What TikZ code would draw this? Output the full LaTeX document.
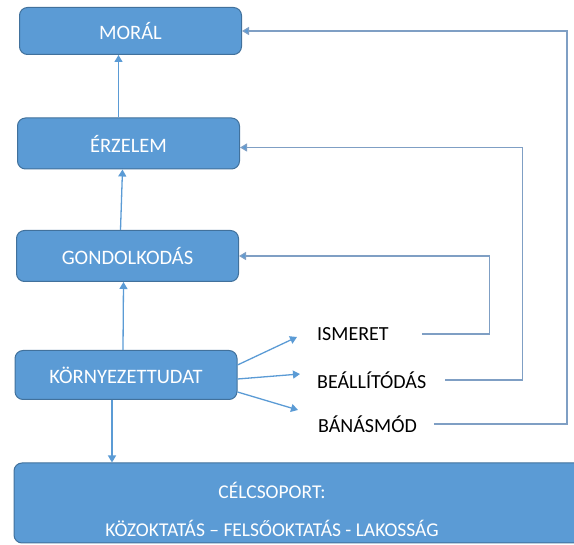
\documentclass[tikz,border=0pt]{standalone}
\usepackage{fontspec}
\setmainfont{Carlito}
\usetikzlibrary{arrows.meta}

\definecolor{boxblue}{HTML}{5B9BD5}
\definecolor{boxedge}{HTML}{41719C}
\definecolor{backline}{HTML}{7F9FC4}

\tikzset{
    lvlbox/.style={draw=boxedge, line width=1pt, fill=boxblue, rounded corners=8pt,
        minimum width=222pt, minimum height=49pt, text=white, font=\fontsize{20.5}{24}\selectfont},
    lbl/.style={anchor=west, inner sep=0pt, font=\fontsize{20}{24}\selectfont},
    up/.style={draw=boxblue, line width=1.3pt, -{Triangle[width=8pt,length=7pt]}},
    back/.style={draw=backline, line width=1.1pt, -{Triangle[width=8pt,length=7pt,fill=boxblue]}}
}

\begin{document}
\begin{tikzpicture}[x=1pt, y=-1pt]
    \clip (0,0) rectangle (574,545);
    \useasboundingbox (0,0) rectangle (574,545);
    % Levels on the left
    \node[lvlbox, minimum height=47pt] (moral) at (130.5,31) {MORÁL};
    \node[lvlbox, minimum height=51pt] (erzelem) at (128.5,143.5) {ÉRZELEM};
    \node[lvlbox, minimum height=51pt] (gond) at (127.5,256) {GONDOLKODÁS};
    \node[lvlbox, minimum height=49pt] (ktudat) at (126,375) {KÖRNYEZETTUDAT};
    % Target group at the bottom
    \node[lvlbox, minimum width=580pt, minimum height=80pt] (cel) at (304,503) {};
    \node[text=white, font=\fontsize{19.5}{38}\selectfont, align=center] (celtxt) at (272,509)
        {CÉLCSOPORT:\\KÖZOKTATÁS – FELSŐOKTATÁS - LAKOSSÁG};
    % Labels on the right
    \node[lbl] (ism) at (317,334) {ISMERET};
    \node[lbl] (beall) at (317,380) {BEÁLLÍTÓDÁS};
    \node[lbl] (banas) at (318,424) {BÁNÁSMÓD};
    % Upward chain
    \draw[up] ([xshift=-10pt]erzelem.north) -- ([xshift=-12pt]moral.south);
    \draw[up] ([xshift=-7pt]gond.north) -- ([xshift=-6pt]erzelem.south);
    \draw[up] ([xshift=-3pt]ktudat.north) -- ([xshift=-4pt]gond.south);
    \draw[up] ([xshift=-14pt]ktudat.south) -- ([xshift=-192pt]cel.north);
    % Fan to the labels
    \draw[up] ([yshift=10pt]ktudat.east) -- ([xshift=-20pt,yshift=-3pt]ism.west);
    \draw[up] ([yshift=-4pt]ktudat.east) -- ([xshift=-17pt,yshift=6pt]beall.west);
    \draw[up] ([yshift=-17pt]ktudat.east) -- ([xshift=-20pt,yshift=14pt]banas.west);
    % Feedback lines
    \draw[back] ([xshift=33pt]ism.east) -- ++(68,0) |- (gond.east);
    \draw[back] ([xshift=19pt]beall.east) -- ++(77,0) |- ([yshift=-4pt]erzelem.east);
    \draw[back] ([xshift=17pt]banas.east) -- ++(133,0) |- (moral.east);
\end{tikzpicture}
\end{document}
